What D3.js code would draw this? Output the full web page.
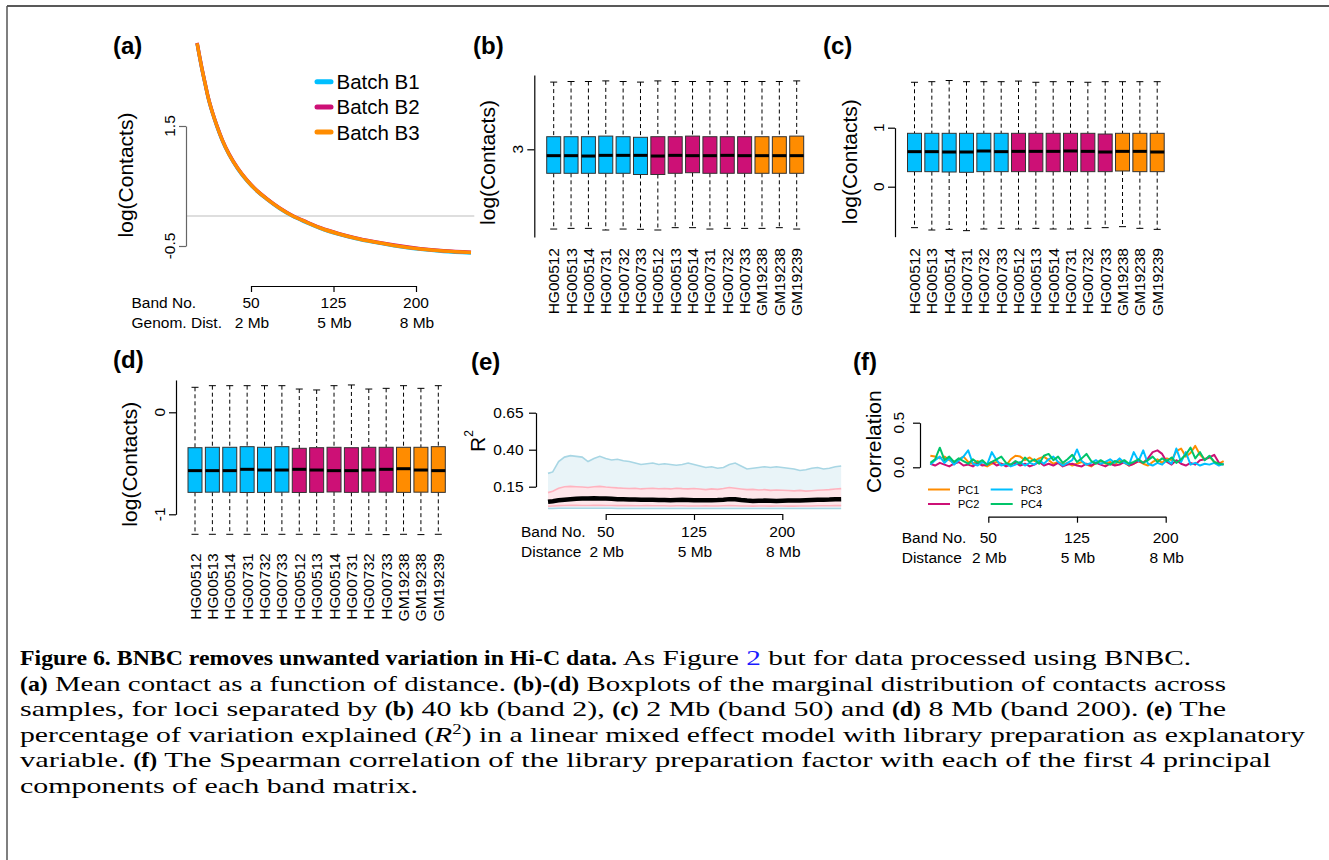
<!DOCTYPE html>
<html>
<head>
<meta charset="utf-8">
<script src="https://cdn.jsdelivr.net/npm/d3@7"></script>
<style>
  body { margin: 0; background: #fff; }
  svg { display: block; }
  text { font-family: "Liberation Sans", Arial, sans-serif; fill: #000; }
  .cap { font-family: "Liberation Serif", "DejaVu Serif", serif; font-size: 22px; white-space: pre; }
</style>
</head>
<body>
<svg id="fig" width="1329" height="860"></svg>
<script>
// ---- data ----
const samples = ['HG00512','HG00513','HG00514','HG00731','HG00732','HG00733',
                 'HG00512','HG00513','HG00514','HG00731','HG00732','HG00733',
                 'GM19238','GM19238','GM19239'];
const sampleBatch = [0,0,0,0,0,0,1,1,1,1,1,1,2,2,2];
const batchNames = ['Batch B1','Batch B2','Batch B3'];
const batchColors = ['#00BFFF','#CD1076','#FF8C00'];

const bandTicks = [50, 125, 200];
const distLabels = ['2 Mb', '5 Mb', '8 Mb'];

// (a) mean contact vs band
const aBands = [1, 3, 5, 8, 11, 15, 19, 24, 30, 38, 46, 56, 64, 76, 88, 100, 113, 130, 145, 161, 180, 204, 225, 250];
const aB1 = [2.875, 2.675, 2.485, 2.225, 1.975, 1.715, 1.495, 1.255, 1.025, 0.785, 0.595, 0.405, 0.285, 0.125, -0.005, -0.105, -0.205, -0.305, -0.375, -0.435, -0.495, -0.555, -0.59, -0.615];
const aB2 = [2.885, 2.685, 2.495, 2.235, 1.985, 1.725, 1.505, 1.265, 1.035, 0.795, 0.605, 0.415, 0.295, 0.135, 0.005, -0.095, -0.195, -0.295, -0.365, -0.425, -0.485, -0.545, -0.58, -0.605];
const aB3 = [2.88, 2.68, 2.49, 2.23, 1.98, 1.72, 1.50, 1.26, 1.03, 0.79, 0.60, 0.41, 0.29, 0.13, 0.00, -0.10, -0.20, -0.30, -0.37, -0.43, -0.49, -0.55, -0.585, -0.61];

// (b) band 2 boxplots
const bWhiskHi = [4.12,4.13,4.13,4.14,4.13,4.12,4.14,4.13,4.13,4.13,4.13,4.13,4.13,4.13,4.14];
const bQ3      = [3.21,3.21,3.21,3.22,3.21,3.20,3.21,3.21,3.22,3.21,3.21,3.21,3.21,3.21,3.22];
const bMed     = [2.894,2.894,2.888,2.899,2.899,2.899,2.888,2.899,2.894,2.894,2.899,2.894,2.894,2.894,2.894];
const bQ1      = [2.60,2.60,2.60,2.60,2.60,2.58,2.58,2.60,2.61,2.60,2.60,2.60,2.60,2.60,2.60];
const bWhiskLo = [1.671,1.682,1.682,1.655,1.671,1.666,1.655,1.694,1.694,1.671,1.682,1.682,1.682,1.694,1.671];

// (c) band 50 boxplots
const cWhiskHi = [1.77,1.78,1.80,1.78,1.78,1.78,1.79,1.77,1.78,1.78,1.77,1.78,1.78,1.78,1.78];
const cQ3      = [0.905,0.905,0.905,0.905,0.905,0.905,0.905,0.905,0.905,0.905,0.905,0.893,0.905,0.905,0.905];
const cMed     = [0.594,0.594,0.588,0.588,0.605,0.594,0.599,0.599,0.599,0.605,0.599,0.588,0.599,0.599,0.588];
const cQ1      = [0.255,0.255,0.249,0.244,0.255,0.255,0.255,0.255,0.255,0.255,0.255,0.255,0.266,0.255,0.255];
const cWhiskLo = [-0.694,-0.734,-0.723,-0.745,-0.717,-0.706,-0.717,-0.706,-0.717,-0.717,-0.706,-0.694,-0.677,-0.706,-0.723];

// (d) band 200 boxplots
const dWhiskHi = [0.245,0.261,0.261,0.261,0.261,0.261,0.228,0.219,0.261,0.268,0.228,0.235,0.261,0.235,0.261];
const dQ3      = [-0.347,-0.343,-0.343,-0.337,-0.343,-0.337,-0.353,-0.347,-0.343,-0.347,-0.343,-0.343,-0.343,-0.343,-0.337];
const dMed     = [-0.572,-0.572,-0.572,-0.559,-0.566,-0.566,-0.559,-0.566,-0.572,-0.572,-0.566,-0.559,-0.553,-0.566,-0.572];
const dQ1      = [-0.785,-0.783,-0.783,-0.786,-0.785,-0.783,-0.786,-0.785,-0.781,-0.785,-0.783,-0.783,-0.785,-0.783,-0.785];
const dWhiskLo = [-1.196,-1.196,-1.196,-1.196,-1.196,-1.196,-1.196,-1.196,-1.196,-1.196,-1.196,-1.199,-1.196,-1.199,-1.196];

// (e) R^2 per band
const eBands = [1].concat(d3.range(5, 251, 5));
const eBlueHi = [0.24,0.25,0.32,0.35,0.36,0.355,0.35,0.32,0.34,0.355,
                 0.34,0.33,0.335,0.325,0.32,0.31,0.30,0.305,0.31,0.30,
                 0.305,0.30,0.295,0.30,0.31,0.30,0.29,0.28,0.285,0.275,
                 0.28,0.30,0.31,0.29,0.27,0.275,0.28,0.285,0.28,0.285,
                 0.28,0.275,0.27,0.26,0.265,0.275,0.28,0.27,0.275,0.285,0.29];
const ePinkHi = [0.11,0.12,0.14,0.15,0.152,0.15,0.148,0.145,0.15,0.152,
                 0.148,0.145,0.142,0.14,0.138,0.14,0.135,0.138,0.14,0.136,
                 0.138,0.135,0.14,0.137,0.135,0.138,0.134,0.13,0.135,0.132,
                 0.138,0.145,0.14,0.135,0.13,0.132,0.128,0.13,0.125,0.128,
                 0.126,0.124,0.122,0.125,0.12,0.123,0.126,0.128,0.13,0.134,0.137];
const eMedian = [0.048,0.052,0.058,0.062,0.065,0.068,0.07,0.071,0.072,0.071,
                 0.07,0.068,0.066,0.065,0.064,0.063,0.062,0.062,0.061,0.06,
                 0.06,0.059,0.06,0.061,0.06,0.059,0.058,0.058,0.059,0.06,
                 0.062,0.066,0.065,0.06,0.056,0.054,0.055,0.056,0.055,0.054,
                 0.055,0.056,0.057,0.056,0.058,0.06,0.061,0.062,0.063,0.065,0.066];
const ePinkLo = [0.018,0.02,0.022,0.023,0.024,0.024,0.023,0.023,0.024,0.024,
                 0.023,0.023,0.022,0.022,0.022,0.021,0.021,0.022,0.021,0.021,
                 0.021,0.02,0.021,0.021,0.02,0.02,0.02,0.021,0.02,0.02,
                 0.021,0.022,0.021,0.02,0.02,0.019,0.02,0.02,0.019,0.02,
                 0.02,0.019,0.019,0.02,0.02,0.02,0.021,0.021,0.021,0.022,0.022];
const eBlueLo = [0.003,0.003,0.004,0.004,0.004,0.004,0.004,0.004,0.004,0.004,
                 0.004,0.004,0.003,0.003,0.003,0.003,0.003,0.003,0.003,0.003,
                 0.003,0.003,0.003,0.003,0.003,0.003,0.003,0.003,0.003,0.003,
                 0.003,0.003,0.003,0.003,0.003,0.003,0.003,0.003,0.003,0.003,
                 0.003,0.003,0.003,0.003,0.003,0.003,0.003,0.003,0.003,0.003,0.003];

// (f) correlation with PCs
const fBands = d3.range(1, 250, 4);
const pcNames = ['PC1','PC2','PC3','PC4'];
const pcColors = ['#FF8C00','#CD1076','#00BFFF','#00C469'];
const fPC1 = [0.13,0.12,0.10,0.12,0.08,0.05,0.09,0.12,0.06,0.04,
              0.07,0.03,0.01,0.04,0.06,0.04,0.02,0.09,0.13,0.12,
              0.08,0.11,0.07,0.10,0.12,0.08,0.04,0.06,0.03,0.05,
              0.02,0.04,0.06,0.03,0.01,0.05,0.07,0.04,0.06,0.03,
              0.08,0.05,0.02,0.04,0.07,0.04,0.02,0.06,0.09,0.05,
              0.10,0.08,0.18,0.21,0.12,0.16,0.24,0.14,0.09,0.12,
              0.06,0.04,0.07];
const fPC2 = [0.04,0.02,0.05,0.03,0.01,0.04,0.06,0.02,0.03,0.01,
              0.05,0.02,0.03,0.06,0.02,0.04,0.01,0.03,0.05,0.02,
              0.04,0.01,0.03,0.06,0.02,0.04,0.02,0.05,0.01,0.03,
              0.04,0.02,0.01,0.04,0.02,0.05,0.03,0.01,0.04,0.02,
              0.03,0.06,0.02,0.04,0.07,0.05,0.10,0.17,0.19,0.15,
              0.06,0.03,0.08,0.04,0.02,0.05,0.03,0.08,0.09,0.11,
              0.14,0.05,0.03];
const fPC3 = [0.03,0.08,0.12,0.05,0.10,0.03,0.08,0.12,0.19,0.04,
              0.02,0.06,0.03,0.17,0.08,0.02,0.04,0.01,0.03,0.06,
              0.02,0.05,0.03,0.08,0.04,0.09,0.12,0.06,0.02,0.05,
              0.08,0.20,0.07,0.03,0.05,0.08,0.04,0.06,0.09,0.05,
              0.10,0.05,0.03,0.17,0.07,0.19,0.04,0.02,0.05,0.03,
              0.08,0.04,0.21,0.06,0.17,0.03,0.05,0.02,0.04,0.03,
              0.05,0.02,0.04];
const fPC4 = [0.05,0.09,0.22,0.08,0.12,0.06,0.10,0.07,0.04,0.09,
              0.05,0.08,0.03,0.06,0.09,0.12,0.05,0.03,0.07,0.04,
              0.11,0.06,0.09,0.04,0.13,0.15,0.08,0.12,0.05,0.09,
              0.14,0.06,0.10,0.15,0.07,0.04,0.08,0.05,0.03,0.07,
              0.05,0.08,0.04,0.06,0.09,0.05,0.08,0.12,0.06,0.10,
              0.07,0.11,0.05,0.09,0.14,0.22,0.10,0.17,0.08,0.13,
              0.06,0.04,0.03];

// caption segments: [text, style]
const captionLines = [
  [['Figure 6. BNBC removes unwanted variation in Hi-C data.', 'b'], [' As Figure ', ''], ['2', 'link'], [' but for data processed using BNBC.', '']],
  [['(a)', 'b'], [' Mean contact as a function of distance. ', ''], ['(b)-(d)', 'b'], [' Boxplots of the marginal distribution of contacts across', '']],
  [['samples, for loci separated by ', ''], ['(b)', 'b'], [' 40 kb (band 2), ', ''], ['(c)', 'b'], [' 2 Mb (band 50) and ', ''], ['(d)', 'b'], [' 8 Mb (band 200). ', ''], ['(e)', 'b'], [' The', '']],
  [['percentage of variation explained (', ''], ['R', 'i'], ['2', 'sup'], [') in a linear mixed effect model with library preparation as explanatory', '']],
  [['variable. ', ''], ['(f)', 'b'], [' The Spearman correlation of the library preparation factor with each of the first 4 principal', '']],
  [['components of each band matrix.', '']]
];
const captionEnds = [1191, 1226, 1226, 1305, 1271, 418];
const captionBoldEnd = 617;   // where the bold title of line 1 stops

// ---- drawing ----
const svg = d3.select('#fig');

// frame
svg.append('line').attr('x1', 7).attr('y1', 6).attr('x2', 1329).attr('y2', 6).attr('stroke', '#222').attr('stroke-width', 1.5);
svg.append('line').attr('x1', 7).attr('y1', 6).attr('x2', 7).attr('y2', 860).attr('stroke', '#555').attr('stroke-width', 1.5);

function panelLabel(txt, x, y) {
  svg.append('text').attr('x', x).attr('y', y).attr('font-size', 24).attr('font-weight', 'bold').text(txt);
}

function rotTitle(txt, x, y, size) {
  return svg.append('text').attr('transform', `translate(${x},${y}) rotate(-90)`)
    .attr('text-anchor', 'middle').attr('dominant-baseline', 'central')
    .attr('font-size', size || 21).text(txt);
}

// left axis whose line runs over ext, ticks at vals, rotated labels
function leftAxis(y, x, ext, vals, labels, opt) {
  opt = opt || {};
  const col = opt.color || '#000';
  const s = y.copy().domain(ext).range(ext.map(y));
  const g = svg.append('g').attr('transform', `translate(${x},0)`)
    .call(d3.axisLeft(s).tickValues(vals).tickSize(opt.tick || 7).tickSizeOuter(0).tickFormat(''));
  g.select('.domain').attr('stroke', col).attr('stroke-width', 1.2);
  g.selectAll('.tick line').attr('stroke', col).attr('stroke-width', 1.2);
  vals.forEach((v, i) => {
    if (opt.horizontal) {
      svg.append('text').attr('x', x - (opt.gap || 13)).attr('y', y(v)).attr('dy', '0.35em')
        .attr('text-anchor', 'end').attr('font-size', 15.5).text(labels[i]);
    } else {
      svg.append('text').attr('transform', `translate(${x - (opt.gap || 11.5)},${y(v)}) rotate(-90)`)
        .attr('text-anchor', 'middle').attr('font-size', 15.5).text(labels[i]);
    }
  });
}

// band / distance axis under a panel
function bandAxis(x, yLine, labelX, row1, row2, distWord) {
  const s = x.copy().domain([bandTicks[0], bandTicks[2]]).range([x(bandTicks[0]), x(bandTicks[2])]);
  const g = svg.append('g').attr('transform', `translate(0,${yLine})`)
    .call(d3.axisBottom(s).tickValues(bandTicks).tickSize(6).tickSizeOuter(0).tickFormat(''));
  g.select('.domain').attr('stroke', '#000').attr('stroke-width', 1.2);
  g.selectAll('.tick line').attr('stroke', '#000').attr('stroke-width', 1.2);
  svg.append('text').attr('x', labelX).attr('y', row1).attr('font-size', 15.5).text('Band No.');
  svg.append('text').attr('x', labelX).attr('y', row2).attr('font-size', 15.5).text(distWord);
  bandTicks.forEach((b, i) => {
    svg.append('text').attr('x', x(b)).attr('y', row1).attr('text-anchor', 'middle').attr('font-size', 15.5).text(b);
    svg.append('text').attr('x', x(b) + 1).attr('y', row2).attr('text-anchor', 'middle').attr('font-size', 15.5).text(distLabels[i]);
  });
}

// ---------- (a) ----------
panelLabel('(a)', 113, 54);
{
  const x = d3.scaleLinear().domain([50, 200]).range([251, 416]);
  const y = d3.scaleLinear().domain([-0.7, 3.0]).range([258, 36]);
  svg.append('line').attr('x1', 186).attr('x2', x(253)).attr('y1', y(0)).attr('y2', y(0))
    .attr('stroke', '#bdbdbd').attr('stroke-width', 1);
  const line = d3.line().x((d, i) => x(aBands[i])).y(d => y(d)).curve(d3.curveMonotoneX);
  [aB1, aB2, aB3].forEach((s, k) => {
    svg.append('path').attr('d', line(s)).attr('fill', 'none')
      .attr('stroke', batchColors[k]).attr('stroke-width', 3.5);
  });
  leftAxis(y, 186, [-0.5, 1.5], [-0.5, 1.5], ['-0.5', '1.5'], { color: '#666' });
  rotTitle('log(Contacts)', 125, 175);
  bandAxis(x, 286, 131.5, 308, 328, 'Genom. Dist.');
  // legend
  batchNames.forEach((n, k) => {
    const ly = 81.7 + k * 25.2;
    svg.append('line').attr('x1', 317).attr('x2', 331).attr('y1', ly).attr('y2', ly)
      .attr('stroke', batchColors[k]).attr('stroke-width', 5).attr('stroke-linecap', 'round');
    svg.append('text').attr('x', 336.5).attr('y', ly).attr('dominant-baseline', 'central')
      .attr('font-size', 20.5).text(n);
  });
}

// ---------- boxplot panels ----------
function boxPanel(cfg) {
  const x = d3.scalePoint().domain(d3.range(samples.length)).range(cfg.xr);
  const y = d3.scaleLinear().domain(cfg.yd).range(cfg.yr);
  const w = 14;
  const g = svg.append('g');
  const n = samples.length;
  for (let i = 0; i < n; i++) {
    const cx = x(i);
    g.append('line').attr('x1', cx).attr('x2', cx).attr('y1', y(cfg.hi[i])).attr('y2', y(cfg.q3[i]))
      .attr('stroke', '#000').attr('stroke-width', 1).attr('stroke-dasharray', '4,3');
    g.append('line').attr('x1', cx).attr('x2', cx).attr('y1', y(cfg.q1[i])).attr('y2', y(cfg.lo[i]))
      .attr('stroke', '#000').attr('stroke-width', 1).attr('stroke-dasharray', '4,3');
    [cfg.hi[i], cfg.lo[i]].forEach(v => {
      g.append('line').attr('x1', cx - w / 4).attr('x2', cx + w / 4).attr('y1', y(v)).attr('y2', y(v))
        .attr('stroke', '#000').attr('stroke-width', 1);
    });
    g.append('rect').attr('x', cx - w / 2).attr('width', w)
      .attr('y', y(cfg.q3[i])).attr('height', y(cfg.q1[i]) - y(cfg.q3[i]))
      .attr('fill', batchColors[sampleBatch[i]]).attr('stroke', '#333').attr('stroke-width', 1);
    g.append('line').attr('x1', cx - w / 2).attr('x2', cx + w / 2).attr('y1', y(cfg.med[i])).attr('y2', y(cfg.med[i]))
      .attr('stroke', '#000').attr('stroke-width', 3);
    svg.append('text').attr('transform', `translate(${cx},${cfg.labelTop}) rotate(-90)`)
      .attr('text-anchor', 'end').attr('dominant-baseline', 'central')
      .attr('font-size', 15.5).text(samples[i]);
  }
  leftAxis(y, cfg.axisX, cfg.axisExt, cfg.ticks, cfg.tickLabels);
  rotTitle('log(Contacts)', cfg.titleX, cfg.titleY);
}

panelLabel('(b)', 473, 54);
boxPanel({ xr: [553.7, 796.7], yd: [1.5, 4.3], yr: [239.3, 71.3],
  hi: bWhiskHi, q3: bQ3, med: bMed, q1: bQ1, lo: bWhiskLo,
  axisX: 534.3, axisExt: [1.54, 4.24], ticks: [3], tickLabels: ['3'],
  titleX: 487.5, titleY: 162.5, labelTop: 248 });

panelLabel('(c)', 823, 54);
boxPanel({ xr: [914.5, 1157.2], yd: [-0.9, 1.9], yr: [239.8, 74.6],
  hi: cWhiskHi, q3: cQ3, med: cMed, q1: cQ1, lo: cWhiskLo,
  axisX: 895, axisExt: [-0.847, 1], ticks: [0, 1], tickLabels: ['0', '1'],
  titleX: 849, titleY: 161.7, labelTop: 248 });

panelLabel('(d)', 113, 368);
boxPanel({ xr: [195, 438.3], yd: [-1.3, 0.35], yr: [544.9, 376.6],
  hi: dWhiskHi, q3: dQ3, med: dMed, q1: dQ1, lo: dWhiskLo,
  axisX: 176, axisExt: [-1, 0.317], ticks: [-1, 0], tickLabels: ['-1', '0'],
  titleX: 129, titleY: 464.2, labelTop: 553.3 });

// ---------- (e) ----------
panelLabel('(e)', 471, 370);
{
  const x = d3.scaleLinear().domain([50, 200]).range([605.7, 782.3]);
  const y = d3.scaleLinear().domain([0, 0.65]).range([508.9, 412.7]);
  const area = (hi, lo) => d3.area().x((d, i) => x(eBands[i])).y0((d, i) => y(lo[i])).y1(d => y(d))(hi);
  const line = d3.line().x((d, i) => x(eBands[i])).y(d => y(d));
  svg.append('path').attr('d', area(eBlueHi, eBlueLo)).attr('fill', '#e9f4f8');
  svg.append('path').attr('d', area(ePinkHi, ePinkLo)).attr('fill', '#fde6ea');
  [eBlueHi, eBlueLo].forEach(s => svg.append('path').attr('d', line(s)).attr('fill', 'none')
    .attr('stroke', '#a8d6e4').attr('stroke-width', 1.6));
  [ePinkHi, ePinkLo].forEach(s => svg.append('path').attr('d', line(s)).attr('fill', 'none')
    .attr('stroke', '#ffb3bf').attr('stroke-width', 1.6));
  svg.append('path').attr('d', line(eMedian)).attr('fill', 'none')
    .attr('stroke', '#000').attr('stroke-width', 4.5);
  leftAxis(y, 536, [0.15, 0.65], [0.15, 0.40, 0.65], ['0.15', '0.40', '0.65'], { horizontal: true, gap: 12.5 });
  const t = svg.append('text').attr('transform', 'translate(476.5,441) rotate(-90)')
    .attr('text-anchor', 'middle').attr('dominant-baseline', 'central').attr('font-size', 21);
  t.append('tspan').text('R');
  t.append('tspan').attr('font-size', 12).attr('dy', -8).text('2');
  bandAxis(x, 514, 521, 537.3, 556.7, 'Distance');
}

// ---------- (f) ----------
panelLabel('(f)', 853, 370);
{
  const x = d3.scaleLinear().domain([50, 200]).range([988.3, 1165.7]);
  const y = d3.scaleLinear().domain([0, 0.5]).range([467.3, 422.7]);
  const line = d3.line().x((d, i) => x(fBands[i])).y(d => y(d));
  [fPC1, fPC2, fPC3, fPC4].forEach((s, k) => {
    svg.append('path').attr('d', line(s)).attr('fill', 'none')
      .attr('stroke', pcColors[k]).attr('stroke-width', 2).attr('stroke-linejoin', 'round');
  });
  leftAxis(y, 920, [0, 0.5], [0, 0.5], ['0.0', '0.5'], { gap: 16 });
  rotTitle('Correlation', 873, 441.7);
  // legend
  pcNames.forEach((n, k) => {
    const lx = k < 2 ? 928 : 990.7;
    const ly = k % 2 === 0 ? 489.5 : 504;
    svg.append('line').attr('x1', lx).attr('x2', lx + 22).attr('y1', ly).attr('y2', ly)
      .attr('stroke', pcColors[k]).attr('stroke-width', 2);
    svg.append('text').attr('x', lx + 30).attr('y', ly).attr('dominant-baseline', 'central')
      .attr('font-size', 11).text(n);
  });
  bandAxis(x, 516.7, 901.7, 543.3, 563.3, 'Distance');
}

// ---------- caption ----------
// each segment is its own text; bold and regular runs get separate stretch factors
function capSeg(txt, st, y) {
  const t = svg.append('text').attr('class', 'cap').attr('y', y).text(txt);
  if (st === 'b') t.style('font-weight', 'bold');
  if (st === 'i') t.style('font-style', 'italic');
  if (st === 'link') t.style('fill', '#1a1aff');
  if (st === 'sup') t.style('font-size', '14px').attr('y', y - 8);
  return t;
}
const capLayout = captionLines.map((segs, li) => {
  const y = 665 + li * 25.6;
  return segs.map(([txt, st]) => {
    const t = capSeg(txt, st, y);
    return { t, st, w: t.node().getComputedTextLength() };
  });
});
const kBold = (captionBoldEnd - 20) / capLayout[0][0].w;
capLayout.forEach((segs, li) => {
  const boldW = d3.sum(segs.filter(s => s.st === 'b'), s => s.w) * kBold;
  const restW = d3.sum(segs.filter(s => s.st !== 'b'), s => s.w);
  const kReg = (captionEnds[li] - 20 - boldW) / restW;
  let cx = 20;
  segs.forEach(s => {
    const len = s.w * (s.st === 'b' ? kBold : kReg);
    s.t.attr('x', cx).attr('textLength', len).attr('lengthAdjust', 'spacingAndGlyphs');
    cx += len;
  });
});
</script>
</body>
</html>
